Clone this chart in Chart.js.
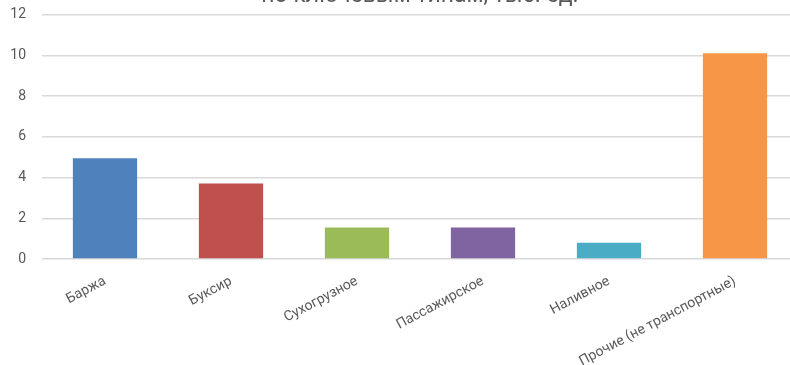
<!DOCTYPE html>
<html>
<head>
<meta charset="utf-8">
<script src="https://cdn.jsdelivr.net/npm/chart.js@4/dist/chart.umd.min.js"></script>
<style>
  html, body { margin: 0; padding: 0; background: #fff; overflow: hidden; width: 790px; height: 365px; }
  #wrap { position: absolute; left: 0; top: -40px; width: 798px; height: 405px; }
</style>
</head>
<body>
<div id="wrap"><canvas id="myChart"></canvas></div>
<script>
const titleText = 'по ключевым типам, тыс. ед.';
const categories = ['Баржа', 'Буксир', 'Сухогрузное', 'Пассажирское', 'Наливное', 'Прочие (не транспортные)'];
const values = [4.95, 3.7, 1.55, 1.55, 0.8, 10.1];
const barColors = ['#4F81BD', '#C0504D', '#9BBB59', '#8064A2', '#4BACC6', '#F79646'];
const yTicks = { min: 0, max: 12, step: 2 };

const textColor = '#595959';

const renderChart = () => {
    var ctx = document.getElementById('myChart').getContext('2d');
    new Chart(ctx, {
        type: 'bar',
        data: {
            labels: categories,
            datasets: [{
                data: values,
                backgroundColor: barColors,
                borderWidth: 0,
                categoryPercentage: 1,
                barPercentage: 0.51
            }]
        },
        options: {
            responsive: true,
            maintainAspectRatio: false,
            animation: false,
            layout: { padding: 0 },
            scales: {
                y: {
                    min: yTicks.min,
                    max: yTicks.max,
                    border: { display: false },
                    grid: { color: '#d9d9d9', lineWidth: 1.5, drawTicks: false },
                    ticks: {
                        stepSize: yTicks.step,
                        padding: 16,
                        color: textColor,
                        font: { family: 'Roboto', size: 14 }
                    },
                    afterFit: (s) => { s.width = 42; }
                },
                x: {
                    border: { display: false },
                    grid: { display: false },
                    ticks: {
                        autoSkip: false,
                        minRotation: 28,
                        maxRotation: 28,
                        padding: 6,
                        color: textColor,
                        font: { family: 'Roboto', size: 14 }
                    },
                    afterFit: (s) => { s.height = 106; }
                }
            },
            plugins: {
                legend: { display: false },
                tooltip: { enabled: false },
                title: {
                    display: true,
                    fullSize: false,
                    text: titleText,
                    color: textColor,
                    font: { family: 'Roboto', size: 23, weight: 'normal', lineHeight: 1.2 },
                    padding: { top: 22.7, bottom: 4.2 }
                }
            }
        }
    });
};

renderChart();
</script>
</body>
</html>
